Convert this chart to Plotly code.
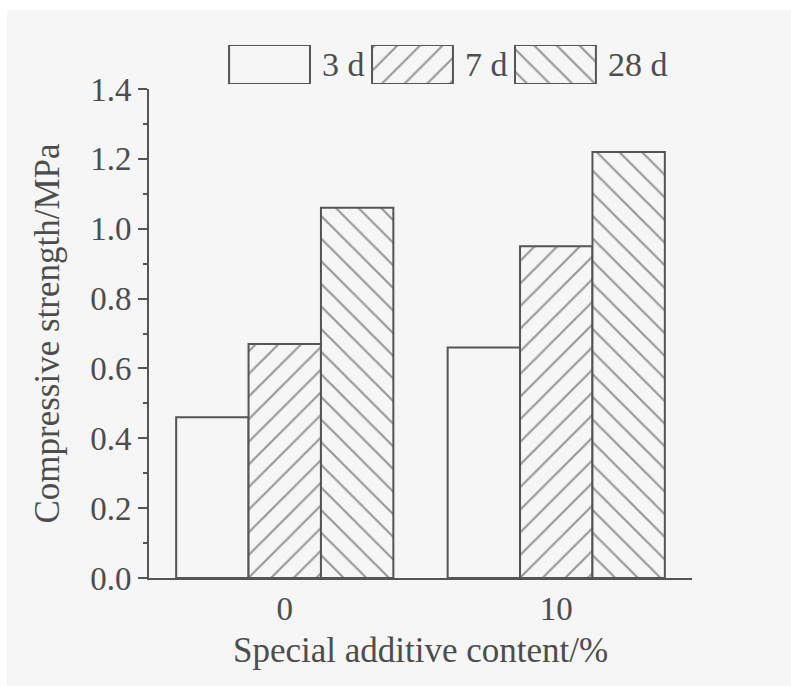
import plotly.graph_objects as go

# Compressive strength by special additive content and curing age
contents = ["0", "10"]
ages = ["3 d", "7 d", "28 d"]
strength_3d = [0.46, 0.66]
strength_7d = [0.67, 0.95]
strength_28d = [1.06, 1.22]
y_ticks = [0.0, 0.2, 0.4, 0.6, 0.8, 1.0, 1.2, 1.4]

BG = "#f6f6f6"
INK = "#555555"
HATCH = "#3c3c3c"
TEXT = "#4d4d4d"
FONT = "Liberation Serif"

patterns = [
    dict(shape=""),
    dict(shape="/", size=16, solidity=0.14, fgcolor=HATCH, bgcolor=BG),
    dict(shape="\\", size=16, solidity=0.14, fgcolor=HATCH, bgcolor=BG),
]
series = [strength_3d, strength_7d, strength_28d]

fig = go.Figure()
for name, vals, pat in zip(ages, series, patterns):
    fig.add_trace(go.Bar(
        x=contents, y=vals, name=name, showlegend=False,
        marker=dict(color=BG, line=dict(color=INK, width=2), pattern=pat),
        xaxis="x", yaxis="y",
    ))

# Legend swatches drawn as bars on a small auxiliary axis above the plot
swatch_w = 0.566
for i, (name, pat) in enumerate(zip(ages, patterns)):
    fig.add_trace(go.Bar(
        x=[i], y=[1], width=[swatch_w], showlegend=False, hoverinfo="skip",
        marker=dict(color=BG, line=dict(color=INK, width=2), pattern=pat),
        xaxis="x2", yaxis="y2",
    ))
    fig.add_annotation(
        x=i + swatch_w / 2 + 0.07, y=0.5, xref="x2", yref="y2",
        text=name, showarrow=False, xanchor="left", yanchor="middle",
        font=dict(family=FONT, size=34, color=TEXT),
    )

# Light grey panel behind the chart
fig.add_shape(
    type="rect", xref="paper", yref="paper",
    x0=-0.2615, x1=1.3, y0=-0.25, y1=1.0558,
    fillcolor=BG, line=dict(width=0), layer="below",
)

fig.update_layout(
    width=791, height=686,
    margin=dict(l=149, r=99, t=40, b=108),
    paper_bgcolor="white", plot_bgcolor="rgba(0,0,0,0)",
    barmode="group", bargap=0.2, bargroupgap=0,
    font=dict(family=FONT, color=TEXT),
    xaxis=dict(
        type="category", range=[-0.5, 1.5],
        showline=True, linecolor=INK, linewidth=2,
        ticks="", showgrid=False, zeroline=False,
        tickfont=dict(family=FONT, size=33, color=TEXT),
        title=dict(text="Special additive content/%", standoff=12,
                   font=dict(family=FONT, size=35, color=TEXT)),
    ),
    yaxis=dict(
        domain=[0, 0.9089], range=[0, 1.4],
        tickvals=y_ticks, ticktext=[f"{v:.1f}" for v in y_ticks],
        showline=True, linecolor=INK, linewidth=2,
        ticks="outside", ticklen=9, tickwidth=2, tickcolor=INK,
        minor=dict(ticks="outside", ticklen=4, tickwidth=2, tickcolor=INK, dtick=0.1, showgrid=False),
        showgrid=False, zeroline=False,
        tickfont=dict(family=FONT, size=33, color=TEXT),
        title=dict(text="Compressive strength/MPa", standoff=20,
                   font=dict(family=FONT, size=35, color=TEXT)),
    ),
    xaxis2=dict(
        domain=[0, 1], range=[-0.843, 2.955], anchor="y2",
        visible=False, fixedrange=True,
    ),
    yaxis2=dict(
        domain=[0.9182, 0.9907], range=[0, 1], anchor="x2",
        visible=False, fixedrange=True,
    ),
)

fig.write_html("out.html")
